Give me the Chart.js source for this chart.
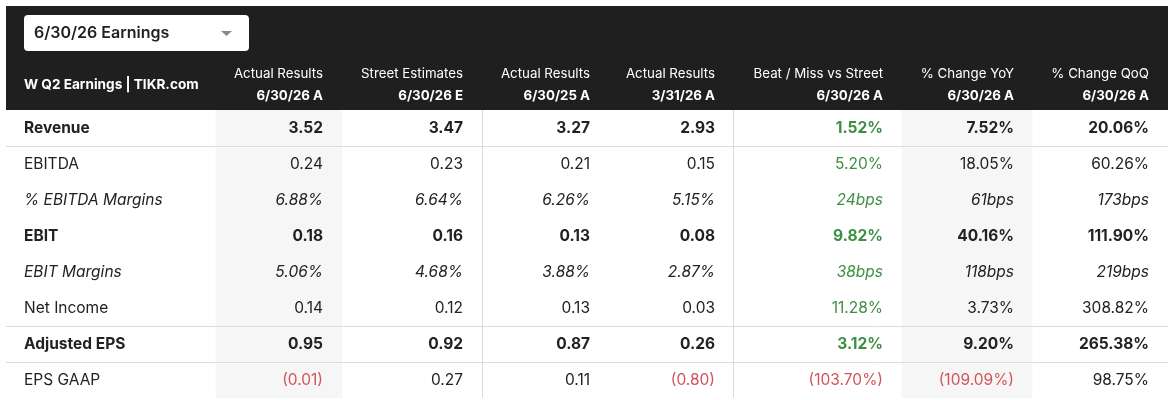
<!DOCTYPE html>
<html>
<head>
<meta charset="utf-8">
<title>W Q2 Earnings | TIKR.com</title>
<script src="https://cdn.jsdelivr.net/npm/chart.js@4.4.1/dist/chart.umd.min.js"></script>
<style>
  html, body { margin: 0; padding: 0; background: #fff; }
  #wrap { width: 1173px; height: 400px; position: relative; }
</style>
</head>
<body>
<div id="wrap"><canvas id="tbl"></canvas></div>
<script>
// table data
var pickerLabel = '6/30/26 Earnings';
var tableTitle = 'W Q2 Earnings | TIKR.com';
var rowLabels = ['Revenue', 'EBITDA', '% EBITDA Margins', 'EBIT', 'EBIT Margins', 'Net Income', 'Adjusted EPS', 'EPS GAAP'];
var colTitles = ['Actual Results', 'Street Estimates', 'Actual Results', 'Actual Results', 'Beat / Miss vs Street', '% Change YoY', '% Change QoQ'];
var colPeriods = ['6/30/26 A', '6/30/26 E', '6/30/25 A', '3/31/26 A', '6/30/26 A', '6/30/26 A', '6/30/26 A'];

// values in billions / %, margin rows in %
var actual2Q26 = [3.52, 0.24, 6.88, 0.18, 5.06, 0.14, 0.95, -0.01];
var street2Q26 = [3.47, 0.23, 6.64, 0.16, 4.68, 0.12, 0.92, 0.27];
var actual2Q25 = [3.27, 0.21, 6.26, 0.13, 3.88, 0.13, 0.87, 0.11];
var actual1Q26 = [2.93, 0.15, 5.15, 0.08, 2.87, 0.03, 0.26, -0.80];
// change columns, margin rows in bps
var beatMiss  = [1.52, 5.20, 24, 9.82, 38, 11.28, 3.12, -103.70];
var changeYoY = [7.52, 18.05, 61, 40.16, 118, 3.73, 9.20, -109.09];
var changeQoQ = [20.06, 60.26, 173, 111.90, 219, 308.82, 265.38, 98.75];

var columns = [actual2Q26, street2Q26, actual2Q25, actual1Q26, beatMiss, changeYoY, changeQoQ];

// styling / layout
var boldRows = [0, 3, 6];
var marginRows = [2, 4];
var ruleAfter = [0, 5, 6];
var changeCols = [4, 5, 6];
var greenCol = 4;
var colRight = [323, 463, 590, 715, 883, 1014, 1149];
var shadedBands = [[216, 342], [902, 1032]];
var vRules = [482, 733];
var FONT = 'Inter, "Noto Sans", sans-serif';
var DARK = '#222222';
var GREEN = '#3f8f43';
var RED = '#d2545a';

function fmt(v, row, col) {
  var a = Math.abs(v);
  var s;
  if (marginRows.indexOf(row) !== -1 && changeCols.indexOf(col) !== -1) {
    s = Math.round(a) + 'bps';
  } else if (marginRows.indexOf(row) !== -1 || changeCols.indexOf(col) !== -1) {
    s = a.toFixed(2) + '%';
  } else {
    s = a.toFixed(2);
  }
  return v < 0 ? '(' + s + ')' : s;
}

function fontFor(row, size) {
  var style = marginRows.indexOf(row) !== -1 ? 'italic ' : '';
  var weight = boldRows.indexOf(row) !== -1 ? '700 ' : '400 ';
  return style + weight + size + 'px ' + FONT;
}

var tablePlugin = {
  id: 'tablePlugin',
  beforeDraw: function(chart) {
    var c = chart.ctx;
    var x = chart.scales.x;
    c.save();
    c.fillStyle = '#fff';
    c.fillRect(0, 0, chart.width, chart.height);
    // header band
    c.fillStyle = '#1f1f1f';
    c.fillRect(x.getPixelForValue(6), 6, x.getPixelForValue(1168) - x.getPixelForValue(6), chart.chartArea.top - 6);
    // dropdown
    c.fillStyle = '#fff';
    c.beginPath();
    c.roundRect(x.getPixelForValue(24), 15, 225, 36, 4);
    c.fill();
    c.fillStyle = DARK;
    c.font = '600 16px ' + FONT;
    c.textBaseline = 'middle';
    c.textAlign = 'left';
    c.fillText(pickerLabel, x.getPixelForValue(34), 33);
    c.fillStyle = '#8a8a8a';
    c.beginPath();
    c.moveTo(x.getPixelForValue(221), 31);
    c.lineTo(x.getPixelForValue(232), 31);
    c.lineTo(x.getPixelForValue(226.5), 36);
    c.closePath();
    c.fill();
    // header text
    c.fillStyle = '#fff';
    c.font = '700 13.6px ' + FONT;
    c.fillText(tableTitle, x.getPixelForValue(24), 85);
    c.textAlign = 'right';
    for (var i = 0; i < colTitles.length; i++) {
      var px = x.getPixelForValue(colRight[i]);
      c.font = '400 13.3px ' + FONT;
      c.fillText(colTitles[i], px, 74);
      c.font = '700 13.3px ' + FONT;
      c.fillText(colPeriods[i], px, 96);
    }
    c.restore();
  },
  afterDatasetsDraw: function(chart) {
    var c = chart.ctx;
    var x = chart.scales.x;
    var y = chart.scales.y;
    var area = chart.chartArea;
    var half = (y.getPixelForValue(1) - y.getPixelForValue(0)) / 2;
    c.save();
    // row rules
    c.strokeStyle = '#dcdcdc';
    c.lineWidth = 1;
    ruleAfter.forEach(function(r) {
      var py = Math.round(y.getPixelForValue(r) + half) + 0.5;
      c.beginPath();
      c.moveTo(x.getPixelForValue(6), py);
      c.lineTo(x.getPixelForValue(1168), py);
      c.stroke();
    });
    // column rules
    vRules.forEach(function(v) {
      var px = Math.round(x.getPixelForValue(v)) + 0.5;
      c.beginPath();
      c.moveTo(px, area.top);
      c.lineTo(px, area.bottom);
      c.stroke();
    });
    // cells
    c.textBaseline = 'middle';
    rowLabels.forEach(function(label, r) {
      var py = y.getPixelForValue(r);
      c.font = fontFor(r, 15.5);
      c.textAlign = 'left';
      c.fillStyle = DARK;
      c.fillText(label, x.getPixelForValue(24), py);
      c.textAlign = 'right';
      columns.forEach(function(col, k) {
        var v = col[r];
        c.fillStyle = v < 0 ? RED : (k === greenCol ? GREEN : DARK);
        c.fillText(fmt(v, r, k), x.getPixelForValue(colRight[k]), py);
      });
    });
    c.restore();
  }
};

var ctx = document.getElementById('tbl');
var chart = new Chart(ctx, {
  type: 'bar',
  data: {
    labels: rowLabels,
    datasets: shadedBands.map(function(b) {
      return {
        data: rowLabels.map(function() { return [b[0], b[1]]; }),
        backgroundColor: '#f6f6f6',
        borderWidth: 0,
        barPercentage: 1,
        categoryPercentage: 1,
        grouped: false
      };
    })
  },
  options: {
    indexAxis: 'y',
    responsive: true,
    maintainAspectRatio: false,
    animation: false,
    events: [],
    layout: { padding: { top: 110, bottom: 2, left: 0, right: 0 } },
    plugins: { legend: { display: false }, tooltip: { enabled: false } },
    scales: {
      x: { type: 'linear', min: 0, max: 1173, display: false },
      y: { type: 'category', display: false, offset: true }
    }
  },
  plugins: [tablePlugin]
});
</script>
</body>
</html>
